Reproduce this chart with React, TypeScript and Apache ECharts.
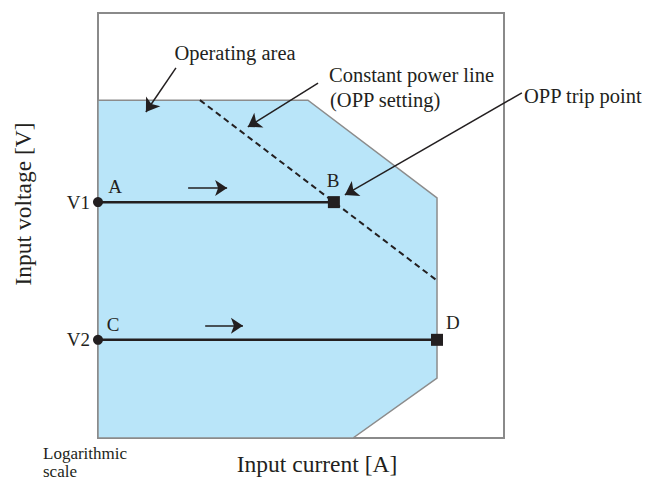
import React, { useEffect, useRef } from "react";
import * as echarts from "echarts";

// Normalized axes: x = log(current) position 0..100, y = voltage 0..100
const areaX = [0, 51.7, 83.5, 83.5, 62.8, 0];
const areaY = [79.5, 79.5, 56.5, 14.1, 0, 0];

const powerLineX = [25.1, 83.7];
const powerLineY = [79.5, 36.9];

const levelNames = ["V1", "V2"];
const levelV = [55.5, 23.1];
const tripI = [58.1, 83.5];

const pointNames = ["A", "B", "C", "D"];
const pointLabelX = [4.2, 57.9, 3.7, 87.4];
const pointLabelY = [59.1, 60.5, 26.8, 27.1];

// direction arrows along the load paths
const dirArrowX0 = [22.2, 26.4];
const dirArrowX1 = [31.8, 35.7];
const dirArrowY = [58.8, 26.4];

// annotation pointers [from, to]
const pointerFromX = [19.2, 54.2, 104.4];
const pointerFromY = [87.1, 83.5, 81.2];
const pointerToX = [11.8, 36.9, 60.8];
const pointerToY = [76.7, 73.2, 57.2];

const INK = "#231f20";
const FONT = "'Liberation Serif', 'Times New Roman', serif";

export default function App() {
  const ref = useRef<HTMLDivElement>(null);
  useEffect(() => {
    if (!ref.current) return;
    const chart = echarts.init(ref.current, undefined, { renderer: "svg" });
    const arrows = dirArrowX0.map((x, i) => ({
      coords: [[x, dirArrowY[i]], [dirArrowX1[i], dirArrowY[i]]],
    }));
    const pointers = pointerFromX.map((x, i) => ({
      coords: [[x, pointerFromY[i]], [pointerToX[i], pointerToY[i]]],
    }));
    chart.setOption({
      animation: false,
      grid: {
        left: 98,
        top: 13,
        width: 406,
        height: 425,
        show: true,
        borderColor: "#8a8a8a",
        borderWidth: 2,
        backgroundColor: "transparent",
      },
      xAxis: {
        type: "value",
        min: 0,
        max: 100,
        axisLine: { show: false },
        axisTick: { show: false },
        axisLabel: { show: false },
        splitLine: { show: false },
      },
      yAxis: {
        type: "value",
        min: 0,
        max: 100,
        axisLine: { show: false },
        axisTick: { show: false },
        axisLabel: { show: false },
        splitLine: { show: false },
      },
      series: [
        {
          type: "custom",
          data: [[0, 0]],
          z: 1,
          renderItem: (_p: any, api: any) => ({
            type: "polygon",
            shape: { points: areaX.map((x, i) => api.coord([x, areaY[i]])) },
            style: { fill: "#b9e5f9", stroke: "#8c8c8c", lineWidth: 1.5 },
          }),
        },
        {
          type: "line",
          data: powerLineX.map((x, i) => [x, powerLineY[i]]),
          symbol: "none",
          z: 3,
          lineStyle: { color: INK, width: 2, type: [6, 4] },
        },
        ...levelV.map((v, i) => ({
          type: "line",
          data: [[0, v], [tripI[i], v]],
          symbol: "none",
          z: 4,
          lineStyle: { color: INK, width: 2.5 },
        })),
        {
          type: "scatter",
          z: 5,
          symbol: "circle",
          symbolSize: 10,
          itemStyle: { color: INK, opacity: 1 },
          data: levelV.map((v, i) => ({ value: [0, v], name: levelNames[i] })),
          label: {
            show: true,
            position: "left",
            distance: 3,
            formatter: "{b}",
            color: INK,
            fontFamily: FONT,
            fontSize: 19,
          },
        },
        {
          type: "scatter",
          z: 5,
          symbol: "rect",
          symbolSize: 12,
          itemStyle: { color: INK, opacity: 1 },
          data: levelV.map((v, i) => [tripI[i], v]),
        },
        {
          type: "scatter",
          z: 6,
          symbolSize: 1,
          itemStyle: { color: "rgba(0,0,0,0)", opacity: 1 },
          data: pointNames.map((n, i) => ({ value: [pointLabelX[i], pointLabelY[i]], name: n })),
          label: {
            show: true,
            position: "inside",
            formatter: "{b}",
            color: INK,
            textBorderWidth: 0,
            fontFamily: FONT,
            fontSize: 19,
          },
        },
        {
          type: "lines",
          coordinateSystem: "cartesian2d",
          z: 6,
          clip: false,
          symbol: ["none", "arrow"],
          symbolSize: [8, 12],
          lineStyle: { color: INK, width: 1.5, opacity: 1 },
          data: arrows,
        },
        {
          type: "lines",
          coordinateSystem: "cartesian2d",
          z: 6,
          clip: false,
          symbol: ["none", "arrow"],
          symbolSize: [8, 13],
          lineStyle: { color: INK, width: 1.5, opacity: 1 },
          data: pointers,
        },
      ],
      graphic: [
        {
          type: "text",
          x: 235,
          y: 53,
          style: { text: "Operating area", font: `20.5px ${FONT}`, fill: INK, align: "center", verticalAlign: "middle" },
        },
        {
          type: "text",
          x: 329,
          y: 75,
          style: { text: "Constant power line", font: `20.5px ${FONT}`, fill: INK, align: "left", verticalAlign: "middle" },
        },
        {
          type: "text",
          x: 330,
          y: 100,
          style: { text: "(OPP setting)", font: `20.5px ${FONT}`, fill: INK, align: "left", verticalAlign: "middle" },
        },
        {
          type: "text",
          x: 524,
          y: 96,
          style: { text: "OPP trip point", font: `20.5px ${FONT}`, fill: INK, align: "left", verticalAlign: "middle" },
        },
        {
          type: "text",
          x: 23,
          y: 204,
          rotation: Math.PI / 2,
          style: { text: "Input voltage [V]", font: `23.5px ${FONT}`, fill: INK, align: "center", verticalAlign: "middle" },
        },
        {
          type: "text",
          x: 317,
          y: 464,
          style: { text: "Input current [A]", font: `23.5px ${FONT}`, fill: INK, align: "center", verticalAlign: "middle" },
        },
        {
          type: "text",
          x: 43,
          y: 453,
          style: { text: "Logarithmic", font: `17px ${FONT}`, fill: INK, align: "left", verticalAlign: "middle" },
        },
        {
          type: "text",
          x: 43,
          y: 471,
          style: { text: "scale", font: `17px ${FONT}`, fill: INK, align: "left", verticalAlign: "middle" },
        },
      ],
    });
    return () => chart.dispose();
  }, []);
  return <div ref={ref} style={{ width: 650, height: 481, position: "absolute", left: 0, top: 0 }} />;
}
